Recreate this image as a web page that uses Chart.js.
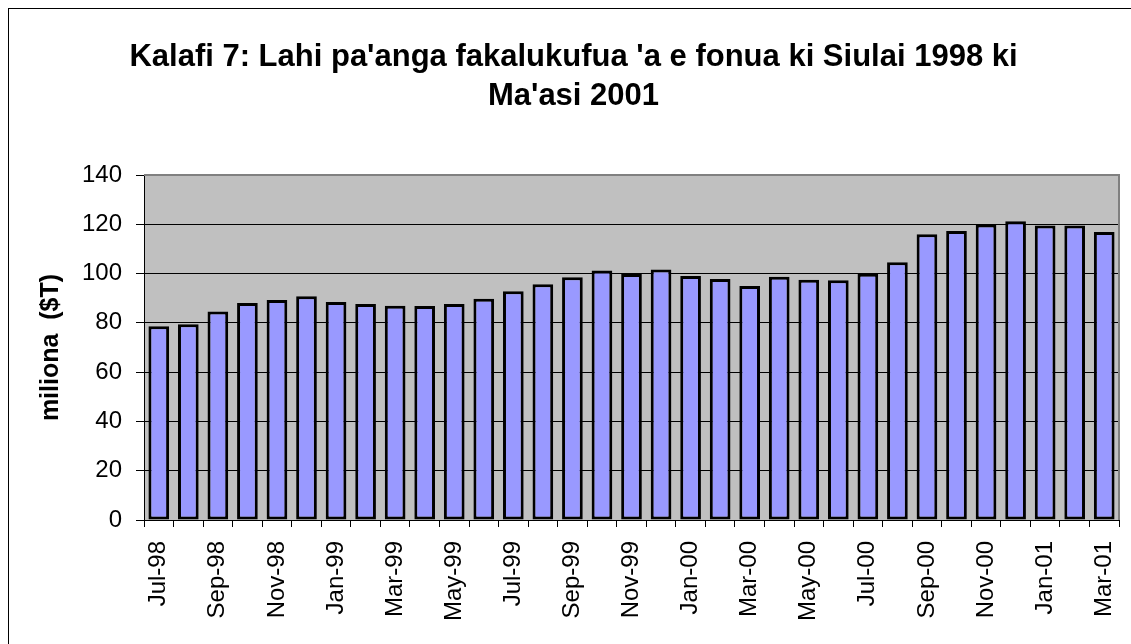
<!DOCTYPE html>
<html>
<head>
<meta charset="utf-8">
<script src="https://cdn.jsdelivr.net/npm/chart.js@4.4.1/dist/chart.umd.min.js"></script>
<style>
  html, body { margin: 0; padding: 0; background: #fff; overflow: hidden; }
  #frame { position: absolute; left: 8px; top: 8px; width: 1140px; height: 660px; border: 1px solid #000; }
  #chart { display: block; }
</style>
</head>
<body>
<div id="frame"><canvas id="chart" width="1131" height="644"></canvas></div>
<script>
// --- data ---
const months = [
  'Jul-98','Aug-98','Sep-98','Oct-98','Nov-98','Dec-98',
  'Jan-99','Feb-99','Mar-99','Apr-99','May-99','Jun-99','Jul-99','Aug-99','Sep-99','Oct-99','Nov-99','Dec-99',
  'Jan-00','Feb-00','Mar-00','Apr-00','May-00','Jun-00','Jul-00','Aug-00','Sep-00','Oct-00','Nov-00','Dec-00',
  'Jan-01','Feb-01','Mar-01'
];
const moneySupply = [
  78.6, 79.4, 84.6, 88.1, 89.3, 90.8,
  88.5, 87.7, 86.9, 86.8, 87.7, 89.8, 92.8, 95.7, 98.5, 101.2, 99.8, 101.7,
  99.0, 97.8, 95.0, 98.7, 97.5, 97.3, 99.9, 104.6, 116.0, 117.3, 119.9, 121.2,
  119.5, 119.5, 116.9
];
const yTicks = [0, 20, 40, 60, 80, 100, 120, 140];
const titleLines = ["Kalafi 7: Lahi pa'anga fakalukufua 'a e fonua ki Siulai 1998 ki", "Ma'asi 2001"];
const yTitle = 'miliona  ($T)';

const FONT = 'Arial, "Liberation Sans", sans-serif';

// grey plot background + grey top/right frame
const plotBg = {
  id: 'plotBg',
  beforeDraw(chart) {
    const { ctx, chartArea: a } = chart;
    ctx.save();
    ctx.fillStyle = '#C0C0C0';
    ctx.fillRect(a.left, a.top, a.right - a.left, a.bottom - a.top);
    ctx.restore();
  },
  afterDraw(chart) {
    const { ctx, chartArea: a } = chart;
    ctx.save();
    ctx.strokeStyle = '#808080';
    ctx.lineWidth = 2;
    ctx.beginPath();
    ctx.moveTo(a.left, a.top);
    ctx.lineTo(a.right, a.top);
    ctx.lineTo(a.right, a.bottom);
    ctx.stroke();
    ctx.restore();
  }
};

// two-line title centred on the whole frame
const frameTitle = {
  id: 'frameTitle',
  afterDraw(chart) {
    const ctx = chart.ctx;
    ctx.save();
    ctx.fillStyle = '#000';
    ctx.font = 'bold 31px ' + FONT;
    ctx.textAlign = 'center';
    ctx.textBaseline = 'alphabetic';
    titleLines.forEach((t, i) => ctx.fillText(t, 564.5, 57 + i * 39));
    ctx.restore();
  }
};

new Chart(document.getElementById('chart'), {
  type: 'bar',
  data: {
    labels: months,
    datasets: [{
      data: moneySupply,
      backgroundColor: '#9999FF',
      borderColor: '#000',
      borderWidth: 3,
      borderSkipped: false,
      barPercentage: 0.7,
      categoryPercentage: 1.0
    }]
  },
  options: {
    responsive: false,
    animation: false,
    devicePixelRatio: 1,
    layout: { padding: { top: 166, right: 21, left: 0, bottom: 0 } },
    plugins: { legend: { display: false }, tooltip: { enabled: false }, title: { display: false } },
    scales: {
      x: {
        offset: true,
        grid: { offset: true, drawOnChartArea: false, color: '#000', tickLength: 7, tickWidth: 1 },
        border: { color: '#000', width: 1 },
        ticks: {
          autoSkip: false, minRotation: 90, maxRotation: 90, padding: 14,
          color: '#000', font: { family: FONT, size: 24 },
          callback: (v, i) => (i % 2 === 0 ? months[i] : '')
        },
        afterFit: s => { s.height = 133; s.paddingLeft = 0; s.paddingRight = 0; }
      },
      y: {
        min: 0, max: 140,
        afterBuildTicks: s => { s.ticks = yTicks.map(v => ({ value: v })); },
        grid: { color: '#000', lineWidth: 1, tickLength: 8 },
        border: { color: '#000', width: 1 },
        ticks: { padding: 14, color: '#000', font: { family: FONT, size: 24 } },
        title: {
          display: true, text: yTitle, color: '#000',
          font: { family: FONT, size: 25, weight: 'bold' },
          padding: { top: 27, bottom: 0 }
        },
        afterFit: s => { s.width = 135; }
      }
    }
  },
  plugins: [plotBg, frameTitle]
});
</script>
</body>
</html>
